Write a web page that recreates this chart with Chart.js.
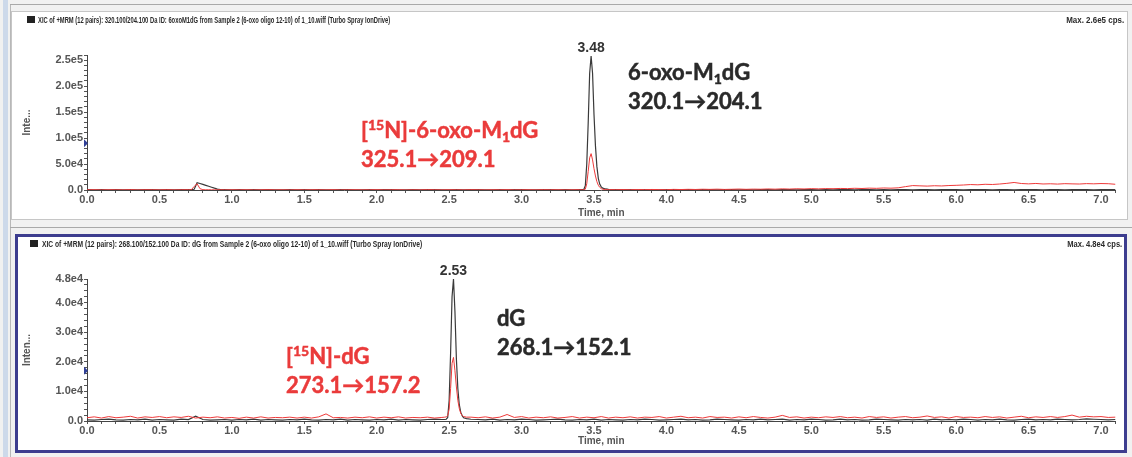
<!DOCTYPE html>
<html>
<head>
<meta charset="utf-8">
<script src="https://cdn.jsdelivr.net/npm/chart.js@4.4.1/dist/chart.umd.min.js"></script>
<style>
  html, body { margin: 0; padding: 0; background: #f1f1f1; }
  #stage { position: relative; width: 1132px; height: 457px; overflow: hidden; font-family: "Liberation Sans", Arial, sans-serif; }
  .strip { position: absolute; left: 3px; top: 0; width: 5px; height: 457px; background: #cdd9ea; }
  .vline { position: absolute; left: 10px; top: 4px; width: 1px; height: 453px; background: #b8b8b8; }
  .rule { position: absolute; left: 10px; right: 0; height: 1px; background: #a9a9a9; }
  .panel { position: absolute; box-sizing: border-box; background: #fff; }
  .p1 { left: 11px; top: 11px; width: 1117px; height: 209px; border: 1px solid #c6c6c6; }
  .p2 { left: 15px; top: 234px; width: 1112px; height: 219px; border: 3px solid #3d3d8f; }
  canvas { position: absolute; left: 0; }
  .sq { position: absolute; width: 8px; height: 7px; background: #222; }
  .hdr { position: absolute; white-space: nowrap; font: bold 9.5px "Liberation Sans Narrow", "Liberation Sans", Arial, sans-serif; color: #2a2a2a; transform-origin: 0 50%; line-height: 10px; }
  .max { transform-origin: 100% 50%; }
  .note { position: absolute; white-space: nowrap; font: bold 22px Lato, "Open Sans", sans-serif; line-height: 29px; -webkit-text-stroke: 0.5px currentColor; }
  .note.k { color: #2a2a2a; }
  .note.r { color: #ea3b3b; }
  .note .sb { font-size: 14px; position: relative; top: 4px; line-height: 0; }
  .note .sp { font-size: 14px; position: relative; top: -8px; line-height: 0; }
</style>
</head>
<body>
<div id="stage">
  <div class="strip"></div>
  <div class="vline"></div>
  <div class="rule" style="top:4px"></div>
  <div class="panel p1"></div>
  <div class="rule" style="top:227px"></div>
  <div class="panel p2"></div>

  <canvas id="topChart" width="1132" height="228" style="top:0"></canvas>
  <canvas id="botChart" width="1132" height="229" style="top:228px"></canvas>

  <div class="sq" style="left:27px;top:16px"></div>
  <div class="hdr" data-w="352" style="left:38px;top:15px">XIC of +MRM (12 pairs): 320.100/204.100 Da ID: 6oxoM1dG from Sample 2 (6-oxo oligo 12-10) of 1_10.wiff (Turbo Spray IonDrive)</div>
  <div class="hdr max" data-w="58" style="right:8px;top:15px">Max. 2.6e5 cps.</div>

  <div class="sq" style="left:30px;top:240px"></div>
  <div class="hdr" data-w="380" style="left:42px;top:239px">XIC of +MRM (12 pairs): 268.100/152.100 Da ID: dG from Sample 2 (6-oxo oligo 12-10) of 1_10.wiff (Turbo Spray IonDrive)</div>
  <div class="hdr max" data-w="55" style="right:10px;top:239px">Max. 4.8e4 cps.</div>

  <div class="note k" style="left:628px;top:57px">6-oxo-M<span class="sb">1</span>dG<br>320.1→204.1</div>
  <div class="note r" style="left:361px;top:115px">[<span class="sp">15</span>N]-6-oxo-M<span class="sb">1</span>dG<br>325.1→209.1</div>
  <div class="note k" style="left:497px;top:303px">dG<br>268.1→152.1</div>
  <div class="note r" style="left:286px;top:341px">[<span class="sp">15</span>N]-dG<br>273.1→157.2</div>
</div>

<script>
// ---- top panel: 6-oxo-M1dG (black) and [15N] internal standard (red) ----
const topTime = [
  0.00, 0.05, 0.10, 0.15, 0.20, 0.25, 0.30, 0.35, 0.40, 0.45, 0.50, 0.55, 0.60, 0.65, 0.70,
  0.72, 0.74, 0.76, 0.78, 0.80, 0.82, 0.84, 0.86, 0.88, 0.90, 0.92, 0.95,
  1.00, 1.05, 1.10, 1.15, 1.20, 1.25, 1.30, 1.35, 1.40, 1.45,
  1.50, 1.55, 1.60, 1.65, 1.70, 1.75, 1.80, 1.85, 1.90, 1.95,
  2.00, 2.05, 2.10, 2.15, 2.20, 2.25, 2.30, 2.35, 2.40, 2.45,
  2.50, 2.55, 2.60, 2.65, 2.70, 2.75, 2.80, 2.85, 2.90, 2.95,
  3.00, 3.05, 3.10, 3.15, 3.20, 3.25, 3.30, 3.35, 3.40,
  3.42, 3.43, 3.44, 3.45, 3.46, 3.47, 3.48, 3.49, 3.50, 3.51, 3.52, 3.53, 3.54, 3.55, 3.56, 3.58, 3.60,
  3.65, 3.70, 3.75, 3.80, 3.85, 3.90, 3.95, 4.00, 4.05, 4.10,
  4.15, 4.20, 4.25, 4.30, 4.35, 4.40, 4.45, 4.50, 4.55, 4.60,
  4.65, 4.70, 4.75, 4.80, 4.85, 4.90, 4.95, 5.00, 5.05, 5.10,
  5.15, 5.20, 5.25, 5.30, 5.35, 5.40, 5.45, 5.50, 5.55, 5.60,
  5.65, 5.70, 5.75, 5.80, 5.85, 5.90, 5.95, 6.00, 6.05, 6.10,
  6.15, 6.20, 6.25, 6.30, 6.35, 6.40, 6.45, 6.50, 6.55, 6.60,
  6.65, 6.70, 6.75, 6.80, 6.85, 6.90, 6.95, 7.00, 7.05, 7.10
];
const topAnalyte = [
  600, 500, 700, 400, 600, 500, 800, 500, 600, 700, 500, 600, 400, 700, 600,
  700, 1500, 14000, 12500, 10800, 9000, 7200, 5400, 3500, 1800, 800, 600,
  500, 600, 400, 700, 500, 600, 500, 400, 600, 500,
  700, 500, 600, 400, 500, 700, 600, 500, 400, 600,
  500, 600, 700, 500, 400, 600, 500, 700, 600, 500,
  400, 600, 500, 700, 600, 500, 400, 600, 500, 700,
  600, 500, 400, 600, 700, 500, 600, 500, 700,
  900, 1500, 8000, 50000, 130000, 225000, 258000, 225000, 145000, 85000, 45000, 22000, 11000, 6000, 3500, 2000, 1300,
  900, 700, 600, 500, 700, 600, 500, 600, 700, 500,
  600, 500, 700, 600, 500, 600, 700, 500, 600, 500,
  700, 600, 500, 600, 700, 500, 600, 700, 500, 600,
  500, 700, 600, 500, 600, 700, 500, 600, 500, 700,
  600, 500, 700, 600, 500, 600, 700, 600, 500, 600,
  700, 600, 500, 600, 700, 500, 600, 700, 600, 500,
  600, 700, 500, 600, 700, 600, 500, 600, 700, 600
];
const topStandard = [
  300, 600, 200, 500, 400, 300, 700, 200, 500, 400, 300, 600, 200, 400, 500,
  400, 7000, 12000, 2500, 700, 400, 500, 300, 400, 300, 500, 300,
  400, 300, 500, 200, 400, 600, 300, 400, 200, 500,
  300, 500, 400, 300, 600, 200, 400, 500, 300, 400,
  600, 300, 400, 500, 200, 400, 300, 600, 400, 300,
  500, 400, 300, 600, 400, 300, 500, 400, 600, 300,
  400, 500, 300, 600, 400, 500, 300, 400, 600,
  400, 500, 1500, 12000, 36000, 62000, 70000, 58000, 41000, 27000, 16000, 9000, 5000, 2500, 1500, 900, 700,
  600, 800, 500, 900, 700, 1000, 800, 600, 1200, 900,
  1300, 1000, 1500, 1200, 1600, 1100, 1400, 1800, 1300, 1700,
  1500, 2000, 1600, 2200, 1800, 2400, 2000, 2600, 2200, 2700,
  2500, 3000, 2700, 3300, 2900, 3600, 3200, 3900, 3500, 4200,
  6500, 8500, 8000, 7500, 8200, 7800, 8600, 9000, 9600, 10500,
  10000, 11000, 10600, 11500, 12800, 14500, 12500, 11800, 12600, 11600,
  12000, 11400, 12200, 11800, 11500, 12300, 11900, 12400, 12100, 11000
];

// ---- bottom panel: dG (black) and [15N]-dG (red) ----
const botTime = [
  0.00, 0.05, 0.10, 0.15, 0.20, 0.25, 0.30, 0.35, 0.40, 0.45,
  0.50, 0.55, 0.60, 0.65, 0.70, 0.75, 0.80, 0.85, 0.90, 0.95,
  1.00, 1.05, 1.10, 1.15, 1.20, 1.25, 1.30, 1.35, 1.40, 1.45,
  1.50, 1.55, 1.60, 1.65, 1.70, 1.75, 1.80, 1.85, 1.90, 1.95,
  2.00, 2.05, 2.10, 2.15, 2.20, 2.25, 2.30, 2.35, 2.40, 2.45,
  2.47, 2.48, 2.49, 2.50, 2.51, 2.52, 2.53, 2.54, 2.55, 2.56, 2.57, 2.58, 2.59, 2.60, 2.62, 2.65,
  2.70, 2.75, 2.80, 2.85, 2.90, 2.95, 3.00, 3.05, 3.10, 3.15,
  3.20, 3.25, 3.30, 3.35, 3.40, 3.45, 3.50, 3.55, 3.60, 3.65,
  3.70, 3.75, 3.80, 3.85, 3.90, 3.95, 4.00, 4.05, 4.10, 4.15,
  4.20, 4.25, 4.30, 4.35, 4.40, 4.45, 4.50, 4.55, 4.60, 4.65,
  4.70, 4.75, 4.80, 4.85, 4.90, 4.95, 5.00, 5.05, 5.10, 5.15,
  5.20, 5.25, 5.30, 5.35, 5.40, 5.45, 5.50, 5.55, 5.60, 5.65,
  5.70, 5.75, 5.80, 5.85, 5.90, 5.95, 6.00, 6.05, 6.10, 6.15,
  6.20, 6.25, 6.30, 6.35, 6.40, 6.45, 6.50, 6.55, 6.60, 6.65,
  6.70, 6.75, 6.80, 6.85, 6.90, 6.95, 7.00, 7.05, 7.10
];
const botAnalyte = [
  400, 300, 500, 600, 400, 300, 500, 400, 600, 300,
  500, 400, 300, 600, 500, 1600, 500, 300, 400, 500,
  300, 500, 400, 600, 300, 500, 400, 300, 500, 400,
  600, 400, 300, 500, 400, 600, 300, 500, 400, 300,
  500, 400, 600, 300, 500, 400, 300, 500, 600, 500,
  500, 600, 1200, 7000, 23000, 42000, 48000, 37000, 21000, 11000, 5500, 3000, 1800, 1100, 800, 600,
  500, 400, 600, 300, 500, 400, 600, 500, 300, 400,
  500, 600, 400, 300, 500, 400, 600, 300, 500, 400,
  300, 500, 400, 600, 500, 300, 400, 500, 600, 400,
  500, 300, 400, 600, 500, 400, 300, 500, 400, 600,
  400, 500, 600, 300, 500, 400, 600, 500, 300, 400,
  600, 400, 500, 300, 400, 600, 500, 400, 300, 500,
  400, 500, 300, 600, 400, 500, 400, 600, 500, 300,
  500, 400, 600, 400, 300, 500, 600, 400, 500, 400,
  600, 500, 400, 500, 700, 600, 500, 400, 500
];
const botStandard = [
  1100, 1400, 1000, 1500, 1100, 1300, 1600, 1000, 1400, 1200,
  1500, 1100, 1400, 1200, 1600, 1000, 1300, 1100, 1400, 1000,
  1200, 900, 1300, 1000, 1400, 1000, 1200, 1100, 1300, 1000,
  1300, 1000, 1400, 2400, 1100, 1200, 1000, 1300, 1100, 1400,
  1000, 1300, 1100, 1400, 1000, 1200, 1100, 1300, 1000, 1200,
  1300, 1400, 1800, 4000, 11000, 19500, 21500, 17000, 11500, 7000, 4200, 2600, 1900, 1500, 1300, 1300,
  1100, 1400, 1000, 1300, 2200, 1200, 1500, 1000, 1300, 1100,
  1400, 1000, 1200, 1500, 1000, 1300, 1100, 1500, 1000, 1300,
  1100, 1400, 1000, 1300, 1200, 1500, 1000, 1300, 1600, 1100,
  1300, 1000, 1500, 1200, 1300, 1000, 1400, 1100, 1500, 1200,
  1000, 1300, 1900, 1200, 1400, 1000, 1300, 1100, 1400, 1200,
  1500, 1100, 1300, 1000, 1500, 1200, 1400, 1000, 1300, 1500,
  1100, 1300, 1700, 1200, 1400, 1000, 1500, 1200, 1300, 1100,
  1500, 1200, 1400, 1000, 1300, 1600, 1100, 1400, 1200, 1500,
  1200, 1500, 2000, 1300, 1600, 1400, 1500, 1200, 1300
];

// axis labels
const timeLabels = [0.0, 0.5, 1.0, 1.5, 2.0, 2.5, 3.0, 3.5, 4.0, 4.5, 5.0, 5.5, 6.0, 6.5, 7.0];
const topYLabels = [0, 50000, 100000, 150000, 200000, 250000];
const botYLabels = [0, 10000, 20000, 30000, 40000, 48000];

const INK = '#3a3a3a';
const RED = '#ee3a3a';
const TICK_FONT = { family: '"Liberation Sans", Arial, sans-serif', size: 11, weight: 'bold' };

function pairs(xs, ys) {
  return xs.map((x, i) => ({ x, y: ys[i] }));
}

function fmtIntensity(v) {
  if (v === 0) return '0.0';
  return v.toExponential(1).replace('e+', 'e');
}

// minor tick positions (unlabelled) plus the labelled ones
function tickList(max, step) {
  const out = [];
  for (let i = 0; i * step <= max + 1e-9; i++) out.push(Math.round(i * step * 1000) / 1000);
  return out;
}

// peak apex time above the black trace + blue marker on the y axis
const peakLabel = {
  id: 'peakLabel',
  afterDatasetsDraw(chart, args, opts) {
    const { ctx } = chart;
    const ds = chart.data.datasets[1].data;
    let k = 0;
    ds.forEach((p, i) => { if (p.y > ds[k].y) k = i; });
    const el = chart.getDatasetMeta(1).data[k];
    ctx.save();
    ctx.font = 'bold 14px "Liberation Sans", Arial, sans-serif';
    ctx.fillStyle = '#333';
    ctx.textAlign = 'center';
    ctx.textBaseline = 'bottom';
    ctx.fillText(ds[k].x.toFixed(2), el.x, el.y - 1);

    const left = chart.scales.x.left;
    const my = chart.scales.y.getPixelForValue(opts.marker);
    ctx.fillStyle = '#2f3f96';
    ctx.beginPath();
    ctx.moveTo(left + 1, my);
    ctx.lineTo(left - 3, my - 4);
    ctx.lineTo(left - 3, my + 4);
    ctx.closePath();
    ctx.fill();
    ctx.restore();
  }
};

function makeChart(id, cfg) {
  const yAll = tickList(cfg.yMax, cfg.yMinor);
  if (!yAll.includes(cfg.yMax)) yAll.push(cfg.yMax);
  const xAll = tickList(7.1, 0.1);

  return new Chart(document.getElementById(id), {
    type: 'line',
    data: {
      datasets: [
        { label: 'IS', data: pairs(cfg.time, cfg.red), borderColor: RED, borderWidth: 1, pointRadius: 0, tension: 0 },
        { label: 'analyte', data: pairs(cfg.time, cfg.black), borderColor: INK, borderWidth: 1.2, pointRadius: 0, tension: 0 }
      ]
    },
    options: {
      responsive: false,
      animation: false,
      devicePixelRatio: 1,
      layout: { padding: { left: 17, right: 16.5, top: cfg.padTop, bottom: 0 } },
      plugins: {
        legend: { display: false },
        tooltip: { enabled: false },
        peakLabel: { marker: cfg.marker }
      },
      scales: {
        x: {
          type: 'linear',
          min: 0,
          max: 7.1,
          afterBuildTicks: s => { s.ticks = xAll.map(v => ({ value: v })); },
          afterFit: s => { s.height = cfg.xHeight; },
          border: { color: '#444', width: 1 },
          grid: { drawOnChartArea: false, tickLength: 3, tickColor: '#555' },
          ticks: {
            autoSkip: false,
            maxRotation: 0,
            padding: 0,
            color: '#555',
            font: TICK_FONT,
            callback: v => timeLabels.some(t => Math.abs(t - v) < 1e-6) ? v.toFixed(1) : ''
          },
          title: {
            display: true,
            text: 'Time, min',
            color: '#555',
            font: { family: '"Liberation Sans", Arial, sans-serif', size: 10, weight: 'bold' },
            padding: { top: 0, bottom: cfg.titlePad }
          }
        },
        y: {
          type: 'linear',
          min: 0,
          max: cfg.yMax,
          afterBuildTicks: s => { s.ticks = yAll.map(v => ({ value: v })); },
          afterFit: s => { s.width = 70; },
          border: { color: '#444', width: 1 },
          grid: { drawOnChartArea: false, tickLength: 3, tickColor: '#555' },
          ticks: {
            autoSkip: false,
            padding: 1,
            color: '#555',
            font: TICK_FONT,
            callback: v => cfg.yLabels.includes(v) ? fmtIntensity(v) : ''
          },
          title: {
            display: true,
            text: cfg.yTitle,
            color: '#555',
            font: { family: '"Liberation Sans", Arial, sans-serif', size: 10, weight: 'bold' },
            padding: { top: 4, bottom: 0 }
          }
        }
      }
    },
    plugins: [peakLabel]
  });
}

makeChart('topChart', {
  time: topTime, black: topAnalyte, red: topStandard,
  yMax: 260000, yMinor: 10000, yLabels: topYLabels, yTitle: 'Inte...',
  padTop: 55, xHeight: 38, titlePad: 9, marker: 90000
});

makeChart('botChart', {
  time: botTime, black: botAnalyte, red: botStandard,
  yMax: 48000, yMinor: 2000, yLabels: botYLabels, yTitle: 'Inten...',
  padTop: 51, xHeight: 36, titlePad: 10, marker: 17000
});

// squeeze the tiny header captions to the width they take in the original
document.querySelectorAll('.hdr').forEach(el => {
  el.style.display = 'inline-block';
  const w = el.getBoundingClientRect().width;
  const target = +el.dataset.w;
  el.style.transform = 'scaleX(' + (target / w).toFixed(3) + ')';
});
</script>
</body>
</html>
